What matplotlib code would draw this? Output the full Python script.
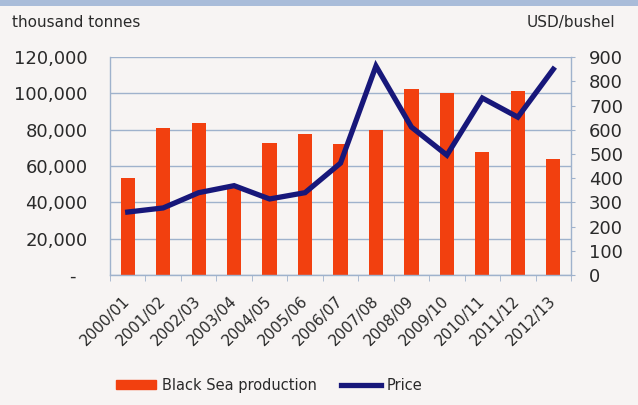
import matplotlib
matplotlib.use("Agg")
import matplotlib.pyplot as plt
from matplotlib.patches import Rectangle
import numpy as np

seasons = ["2000/01", "2001/02", "2002/03", "2003/04", "2004/05", "2005/06",
           "2006/07", "2007/08", "2008/09", "2009/10", "2010/11", "2011/12",
           "2012/13"]
production = [53400, 80900, 83700, 48000, 72700, 77600, 72100, 79800,
              102400, 100200, 67700, 101300, 63900]
price = [260, 277, 340, 369, 314, 340, 462, 863, 611, 495, 731, 652, 850]

left_ticks = [0, 20000, 40000, 60000, 80000, 100000, 120000]
left_labels = ["-  ", "20,000", "40,000", "60,000", "80,000", "100,000", "120,000"]
right_ticks = list(range(0, 1000, 100))

bar_color = "#f2400f"
line_color = "#17177a"
grid_color = "#9fb2cc"
text_color = "#2a2a2a"

plt.rcParams["font.family"] = ["DejaVu Sans"]

fig = plt.figure(figsize=(6.38, 4.05), dpi=100)
fig.patch.set_facecolor("#f7f4f3")

# header stripe along the top edge
fig.patches.append(Rectangle((0, 0.985), 1, 0.015, transform=fig.transFigure,
                             facecolor="#a9bcd9", edgecolor="none"))

ax = fig.add_axes([0.1724, 0.321, 0.7226, 0.538])
ax.set_facecolor("none")
x = np.arange(len(seasons))
ax.bar(x, production, width=0.4, color=bar_color, zorder=2)
ax.set_xlim(-0.5, len(seasons) - 0.5)
ax.set_ylim(0, 120000)
ax.set_yticks(left_ticks)
ax.set_yticklabels(left_labels)
ax.yaxis.grid(True, color=grid_color, linewidth=1.0, zorder=0)
ax.set_axisbelow(True)
ax.tick_params(axis="y", length=0, pad=16, labelsize=13, colors=text_color)

ax.set_xticks(x)
ax.set_xticklabels(seasons, rotation=45, ha="right", va="center",
                   rotation_mode="anchor", fontsize=11, color=text_color)
ax.tick_params(axis="x", length=0, pad=17)
ax.set_xticks(np.arange(-0.5, len(seasons), 1), minor=True)
ax.tick_params(axis="x", which="minor", length=4, color=grid_color, direction="out")

for side in ["left", "right", "bottom"]:
    ax.spines[side].set_color(grid_color)
    ax.spines[side].set_linewidth(1.0)
ax.spines["top"].set_visible(False)

ax2 = ax.twinx()
ax2.plot(x, price, color=line_color, linewidth=3.8, zorder=3, solid_joinstyle="miter")
ax2.set_ylim(0, 900)
ax2.set_yticks(right_ticks)
ax2.tick_params(axis="y", length=3, color=grid_color, labelsize=13,
                labelcolor=text_color, pad=10)
for side in ["left", "right", "bottom", "top"]:
    ax2.spines[side].set_visible(False)

fig.text(0.019, 0.945, "thousand tonnes", fontsize=11, color=text_color,
         ha="left", va="center")
fig.text(0.964, 0.945, "USD/bushel", fontsize=11, color=text_color,
         ha="right", va="center")

# legend below the axis labels
handles = [Rectangle((0, 0), 1, 1, color=bar_color),
           plt.Line2D([0], [0], color=line_color, linewidth=3.8)]
fig.legend(handles, ["Black Sea production", "Price"], loc="center",
           bbox_to_anchor=(0.422, 0.049), ncol=2, frameon=False, fontsize=10.5,
           handlelength=2.7, handleheight=0.6, columnspacing=1.7, handletextpad=0.4,
           labelcolor=text_color)

fig.savefig("out.png", dpi=100, facecolor=fig.get_facecolor())
